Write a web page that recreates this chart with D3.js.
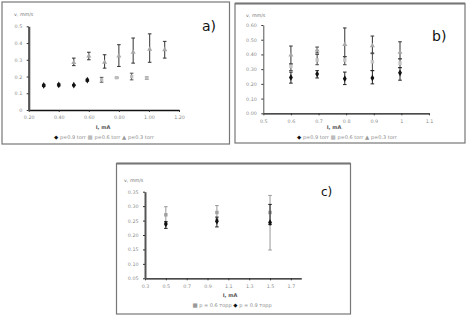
<!DOCTYPE html>
<html><head><meta charset="utf-8">
<script src="https://cdn.jsdelivr.net/npm/d3@7"></script>
<style>body{margin:0;background:#fff}svg{display:block}text{font-family:"DejaVu Sans",sans-serif}</style>
</head><body><svg id="c" width="467" height="319"></svg>
<script>
// ---- Panel a data ----
const aTicksX = ["0.20","0.40","0.60","0.80","1.00","1.20"];
const aTicksY = ["0","0.1","0.2","0.3","0.4","0.5"];
const aP09I = [0.30,0.40,0.50,0.59];
const aP09v = [0.147,0.150,0.148,0.178];
const aP09lo = [0.141,0.144,0.145,0.172];
const aP09hi = [0.153,0.156,0.151,0.184];
const aP06I = [0.685,0.785,0.885,0.985];
const aP06v = [0.180,0.193,0.200,0.190];
const aP06lo = [0.166,0.190,0.180,0.183];
const aP06hi = [0.195,0.196,0.220,0.197];
const aP03I = [0.50,0.60,0.705,0.80,0.895,1.005,1.105];
const aP03v = [0.283,0.323,0.285,0.323,0.345,0.363,0.360];
const aP03lo = [0.265,0.300,0.250,0.260,0.280,0.285,0.310];
const aP03hi = [0.310,0.345,0.330,0.390,0.430,0.455,0.410];
// ---- Panel b data ----
const bTicksX = ["0.5","0.6","0.7","0.8","0.9","1","1.1"];
const bTicksY = ["0.00","0.10","0.20","0.30","0.40","0.50","0.60"];
const bI = [0.6,0.695,0.795,0.895,0.995];
const bP09v = [0.244,0.267,0.235,0.240,0.275];
const bP09lo = [0.205,0.240,0.195,0.200,0.225];
const bP09hi = [0.280,0.290,0.280,0.290,0.310];
const bP06v = [0.320,0.362,0.362,0.350,0.340];
const bP06lo = [0.290,0.330,0.330,0.290,0.310];
const bP06hi = [0.335,0.400,0.385,0.405,0.370];
const bP03v = [0.396,0.430,0.468,0.459,0.414];
const bP03lo = [0.335,0.410,0.385,0.410,0.370];
const bP03hi = [0.457,0.450,0.580,0.525,0.486];
// ---- Panel c data ----
const cTicksX = ["0.3","0.5","0.7","0.9","1.1","1.3","1.5","1.7"];
const cTicksY = ["0.05","0.10","0.15","0.20","0.25","0.30","0.35"];
const cI = [0.50,0.99,1.50];
const cP06v = [0.270,0.278,0.278];
const cP06lo = [0.245,0.255,0.148];
const cP06hi = [0.298,0.302,0.337];
const cP09v = [0.238,0.248,0.243];
const cP09lo = [0.223,0.228,0.236];
const cP09hi = [0.246,0.262,0.306];

const svg = d3.select("#c");
const LBL = "#8a8a8a";

function panel(o){
  const g = svg.append("g");
  g.append("rect").attr("x",o.box[0]).attr("y",o.box[1]).attr("width",o.box[2]).attr("height",o.box[3])
    .attr("fill","#fff").attr("stroke","#777").attr("stroke-width",1.2);
  if(o.topThick) g.append("line").attr("x1",o.box[0]).attr("x2",o.box[0]+o.box[2]).attr("y1",o.box[1]).attr("y2",o.box[1]).attr("stroke","#777").attr("stroke-width",2.2);
  const x = d3.scaleLinear().domain(o.xd).range(o.xr);
  const y = d3.scaleLinear().domain(o.yd).range(o.yr);
  const xa = g.append("g").attr("transform",`translate(0,${o.yr[0]})`)
    .call(d3.axisBottom(x).tickValues(o.xt.map(Number)).tickFormat((d,i)=>o.xt[i]).tickSize(2).tickSizeOuter(0));
  xa.select(".domain").attr("stroke","#111").attr("stroke-width",1.3);
  xa.selectAll(".tick line").attr("stroke","#333");
  xa.selectAll("text").attr("fill",LBL).attr("font-size",4.8).attr("dy","0.9em");
  const ya = g.append("g").attr("transform",`translate(${o.xr[0]},0)`)
    .call(d3.axisLeft(y).tickValues(o.yt.map(Number)).tickFormat((d,i)=>o.yt[i]).tickSize(2).tickSizeOuter(0));
  ya.select(".domain").attr("stroke",o.yCol).attr("stroke-width",o.yW);
  ya.selectAll(".tick line").attr("stroke","#333");
  ya.selectAll("text").attr("fill",LBL).attr("font-size",4.8).attr("dx","-1.5px");
  g.append("text").attr("x",o.yTitle[0]).attr("y",o.yTitle[1]).attr("font-size",4.8).attr("fill","#777").text("v, mm/s");
  g.append("text").attr("x",o.xTitle[0]).attr("y",o.xTitle[1]).attr("font-size",5).attr("fill","#555").attr("text-anchor","middle").attr("font-weight","bold").text("I, mA");
  g.append("text").attr("x",o.tag[0]).attr("y",o.tag[1]).attr("font-size",o.tagSize).attr("fill","#111").text(o.tagText);
  o.series.forEach(s=>{
    const d = s.I.map((v,i)=>({x:v,v:s.v[i],lo:s.lo[i],hi:s.hi[i]}));
    const sg = g.append("g");
    d.forEach(p=>{
      const cx = x(p.x);
      sg.append("line").attr("x1",cx).attr("x2",cx).attr("y1",y(p.lo)).attr("y2",y(p.hi)).attr("stroke",s.ec).attr("stroke-width",1);
      [p.lo,p.hi].forEach(q=>sg.append("line").attr("x1",cx-1.8).attr("x2",cx+1.8).attr("y1",y(q)).attr("y2",y(q)).attr("stroke",s.ec).attr("stroke-width",1));
    });
    sg.selectAll("path.m").data(d).join("path").attr("class","m")
      .attr("transform",p=>`translate(${x(p.x)},${y(p.v)})`)
      .attr("d",d3.symbol().type(s.sym).size(s.size)).attr("fill",s.col);
  });
  const lg = g.append("text").attr("x",o.leg[0]).attr("y",o.leg[1]).attr("font-size",5).attr("fill",LBL).attr("text-anchor","middle");
  o.legend.forEach((l,i)=>{
    lg.append("tspan").attr("fill",l.col).attr("font-size",5.5).text((i?" ":"")+l.g);
    lg.append("tspan").text(" "+l.t);
  });
}

panel({box:[2,2,227.5,142], xd:[0.2,1.2], xr:[28.7,179], yd:[0,0.5], yr:[110,26.3],
  xt:aTicksX, yt:aTicksY, yCol:"#555", yW:2.2, yTitle:[14,15.5], xTitle:[103,128.5], tag:[202,31], tagSize:14, tagText:"a)",
  leg:[104,139], topThick:false,
  series:[
    {I:aP06I,v:aP06v,lo:aP06lo,hi:aP06hi,col:"#bdbdbd",ec:"#555",sym:d3.symbolSquare,size:11},
    {I:aP03I,v:aP03v,lo:aP03lo,hi:aP03hi,col:"#a8a8a8",ec:"#333",sym:d3.symbolTriangle,size:11},
    {I:aP09I,v:aP09v,lo:aP09lo,hi:aP09hi,col:"#111",ec:"#222",sym:d3.symbolDiamond,size:13}
  ],
  legend:[{g:"◆",col:"#111",t:"p=0.9 torr"},{g:"■",col:"#bbb",t:"p=0.6 torr"},{g:"▲",col:"#999",t:"p=0.3 torr"}]
});

panel({box:[235,3.5,230,139.5], xd:[0.5,1.1], xr:[263.3,429], yd:[0,0.6], yr:[113.3,25],
  xt:bTicksX, yt:bTicksY, yCol:"#555", yW:1, yTitle:[246,17], xTitle:[334,129], tag:[432,41], tagSize:14, tagText:"b)",
  leg:[347,139], topThick:true,
  series:[
    {I:bI,v:bP03v,lo:bP03lo,hi:bP03hi,col:"#a8a8a8",ec:"#333",sym:d3.symbolTriangle,size:11},
    {I:bI,v:bP06v,lo:bP06lo,hi:bP06hi,col:"#c4c4c4",ec:"#444",sym:d3.symbolSquare,size:12},
    {I:bI,v:bP09v,lo:bP09lo,hi:bP09hi,col:"#111",ec:"#222",sym:d3.symbolDiamond,size:13}
  ],
  legend:[{g:"◆",col:"#111",t:"p=0.9 torr"},{g:"■",col:"#bbb",t:"p=0.6 torr"},{g:"▲",col:"#999",t:"p=0.3 torr"}]
});

panel({box:[116.5,163.5,234,150.5], xd:[0.3,1.8], xr:[145,301.3], yd:[0.05,0.35], yr:[278.3,191.7],
  xt:cTicksX, yt:cTicksY, yCol:"#555", yW:2, yTitle:[124,182], xTitle:[230,296.5], tag:[321,196], tagSize:12, tagText:"c)",
  leg:[232,307], topThick:true,
  series:[
    {I:cI,v:cP06v,lo:cP06lo,hi:cP06hi,col:"#a0a0a0",ec:"#999",sym:d3.symbolSquare,size:12},
    {I:cI,v:cP09v,lo:cP09lo,hi:cP09hi,col:"#111",ec:"#222",sym:d3.symbolDiamond,size:13}
  ],
  legend:[{g:"■",col:"#999",t:"p = 0.6 торр"},{g:"◆",col:"#111",t:"p = 0.9 торр"}]
});
</script></body></html>
